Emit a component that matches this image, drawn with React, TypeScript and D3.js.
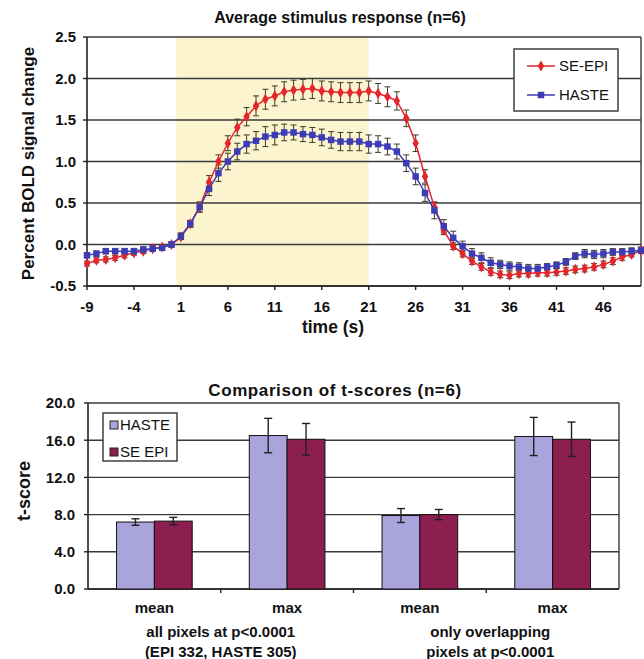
import * as d3 from "d3";

const W = 644;
const H = 659;
const FONT = "Arial, 'Liberation Sans', sans-serif";

// top chart: time course, one point per second
const times = d3.range(-9, 51);
const seEpi = [
  -0.23, -0.19, -0.18, -0.16, -0.13, -0.1, -0.08, -0.05, -0.03, 0.0,
  0.09, 0.25, 0.45, 0.75, 1.0, 1.22, 1.41, 1.54, 1.67, 1.75,
  1.79, 1.84, 1.86, 1.87, 1.88, 1.85, 1.84, 1.83, 1.83, 1.83,
  1.85, 1.82, 1.78, 1.73, 1.52, 1.22, 0.82, 0.45, 0.17, -0.02,
  -0.11, -0.2, -0.27, -0.33, -0.36, -0.37, -0.35, -0.35, -0.34, -0.34,
  -0.33, -0.32, -0.3, -0.29, -0.27, -0.24, -0.2, -0.15, -0.12, -0.07,
];
const seEpiErr = [
  0.03, 0.03, 0.03, 0.03, 0.03, 0.03, 0.03, 0.03, 0.03, 0.03,
  0.03, 0.04, 0.06, 0.08, 0.08, 0.09, 0.1, 0.11, 0.12, 0.12,
  0.12, 0.12, 0.12, 0.12, 0.12, 0.12, 0.12, 0.12, 0.12, 0.12,
  0.12, 0.12, 0.12, 0.11, 0.1, 0.1, 0.08, 0.06, 0.05, 0.04,
  0.04, 0.04, 0.04, 0.04, 0.04, 0.04, 0.04, 0.04, 0.04, 0.04,
  0.04, 0.04, 0.04, 0.04, 0.04, 0.04, 0.04, 0.04, 0.03, 0.03,
];
const haste = [
  -0.13, -0.11, -0.08, -0.08, -0.08, -0.08, -0.06, -0.05, -0.04, 0.0,
  0.1, 0.25, 0.45, 0.67, 0.86, 1.0, 1.12, 1.21, 1.25, 1.3,
  1.32, 1.35, 1.35, 1.33, 1.32, 1.29, 1.26, 1.24, 1.24, 1.24,
  1.21, 1.21, 1.18, 1.12, 0.98, 0.82, 0.62, 0.41, 0.22, 0.08,
  -0.02, -0.11, -0.16, -0.22, -0.24, -0.26, -0.27, -0.29, -0.29, -0.27,
  -0.25, -0.21, -0.14, -0.11, -0.12, -0.11, -0.09, -0.09, -0.08, -0.07,
];
const hasteErr = [
  0.03, 0.03, 0.03, 0.03, 0.03, 0.03, 0.03, 0.03, 0.03, 0.03,
  0.04, 0.04, 0.06, 0.08, 0.1, 0.1, 0.1, 0.11, 0.11, 0.12,
  0.12, 0.1, 0.09, 0.09, 0.09, 0.1, 0.1, 0.11, 0.11, 0.11,
  0.11, 0.1, 0.1, 0.09, 0.1, 0.1, 0.1, 0.1, 0.08, 0.08,
  0.06, 0.06, 0.06, 0.06, 0.05, 0.05, 0.05, 0.05, 0.05, 0.04,
  0.04, 0.04, 0.04, 0.05, 0.05, 0.05, 0.04, 0.04, 0.04, 0.04,
];
const xTickLabels = [-9, -4, 1, 6, 11, 16, 21, 26, 31, 36, 41, 46];
const yTicksTop = [-0.5, 0, 0.5, 1, 1.5, 2, 2.5];
const stimulusWindow = [0.5, 21];

// bottom chart: t-scores
const categories = ["mean1", "max1", "mean2", "max2"];
const categoryLabels = ["mean", "max", "mean", "max"];
const hasteT = [7.2, 16.5, 7.9, 16.4];
const hasteTErr = [0.35, 1.85, 0.75, 2.05];
const epiT = [7.3, 16.1, 8.0, 16.1];
const epiTErr = [0.4, 1.7, 0.55, 1.85];
const yTicksBottom = [0, 4, 8, 12, 16, 20];
const groupLabels = [
  ["all pixels at p<0.0001", "(EPI 332, HASTE 305)"],
  ["only overlapping", "pixels at p<0.0001"],
];

const RED = "#e3262c";
const BLUE = "#3c3cb4";
const ERR = "#3a3a1e";
const GRID = "#3a3a3a";
const HASTE_FILL = "#aaa4dc";
const EPI_FILL = "#8c1f4f";
const INK = "#111";

function TopChart() {
  const x = d3.scaleLinear().domain([-9, 50]).range([87, 641]);
  const y = d3.scaleLinear().domain([-0.5, 2.5]).range([286, 37]);
  const line = d3
    .line<number>()
    .x((_, i) => x(times[i]))
    .y((d) => y(d));

  const diamond = d3.symbol(d3.symbolDiamond, 36)();
  const square = d3.symbol(d3.symbolSquare, 42)();

  return (
    <g fontFamily={FONT}>
      <rect
        x={x(stimulusWindow[0])}
        y={y(2.5)}
        width={x(stimulusWindow[1]) - x(stimulusWindow[0])}
        height={y(-0.5) - y(2.5)}
        fill="#fbf4cf"
      />
      {yTicksTop.map((t) => (
        <g key={t}>
          <line x1={x(-9)} x2={x(50)} y1={y(t)} y2={y(t)} stroke={GRID} strokeWidth={1.4} />
          <line x1={x(-9) - 4} x2={x(-9)} y1={y(t)} y2={y(t)} stroke="#222" strokeWidth={1.4} />
          <text x={76} y={y(t)} dy="0.36em" textAnchor="end" fontSize={15} fontWeight="bold" fill={INK}>
            {t.toFixed(1)}
          </text>
        </g>
      ))}
      <line x1={x(50)} x2={x(50)} y1={y(2.5)} y2={y(-0.5)} stroke={GRID} strokeWidth={1.4} />
      <line x1={x(-9)} x2={x(-9)} y1={y(2.5)} y2={y(-0.5)} stroke="#222" strokeWidth={1.6} />
      <line x1={x(-9)} x2={x(50)} y1={y(-0.5)} y2={y(-0.5)} stroke="#222" strokeWidth={1.6} />
      {xTickLabels.map((t) => (
        <g key={t}>
          <line x1={x(t)} x2={x(t)} y1={y(-0.5)} y2={y(-0.5) + 4} stroke="#222" strokeWidth={1.4} />
          <text x={x(t)} y={312} textAnchor="middle" fontSize={15} fontWeight="bold" fill={INK}>
            {t}
          </text>
        </g>
      ))}

      {/* error bars */}
      {[
        { v: seEpi, e: seEpiErr },
        { v: haste, e: hasteErr },
      ].map((s, k) => (
        <g key={k} stroke={ERR} strokeWidth={1}>
          {s.v.map((d, i) => {
            const cx = x(times[i]);
            return (
              <g key={i}>
                <line x1={cx} x2={cx} y1={y(d - s.e[i])} y2={y(d + s.e[i])} />
                <line x1={cx - 3} x2={cx + 3} y1={y(d - s.e[i])} y2={y(d - s.e[i])} />
                <line x1={cx - 3} x2={cx + 3} y1={y(d + s.e[i])} y2={y(d + s.e[i])} />
              </g>
            );
          })}
        </g>
      ))}

      <path d={line(seEpi) || ""} fill="none" stroke={RED} strokeWidth={1.5} />
      {seEpi.map((d, i) => (
        <path key={i} d={diamond || ""} transform={`translate(${x(times[i])},${y(d)})`} fill={RED} />
      ))}
      <path d={line(haste) || ""} fill="none" stroke={BLUE} strokeWidth={1.5} />
      {haste.map((d, i) => (
        <path key={i} d={square || ""} transform={`translate(${x(times[i])},${y(d)})`} fill={BLUE} />
      ))}

      {/* legend */}
      <rect x={514} y={49} width={104} height={62} fill="#fff" stroke="#333" strokeWidth={1.4} />
      <line x1={527} x2={555} y1={66} y2={66} stroke={RED} strokeWidth={1.5} />
      <path d={diamond || ""} transform="translate(541,66)" fill={RED} />
      <text x={559} y={66} dy="0.36em" fontSize={15} fill={INK}>SE-EPI</text>
      <line x1={527} x2={555} y1={95} y2={95} stroke={BLUE} strokeWidth={1.5} />
      <path d={square || ""} transform="translate(541,95)" fill={BLUE} />
      <text x={559} y={95} dy="0.36em" fontSize={15} fill={INK}>HASTE</text>

      <text x={340} y={23} textAnchor="middle" fontSize={16} fontWeight="bold" fill={INK}>
        Average stimulus response (n=6)
      </text>
      <text
        transform={`translate(28,${(y(2.5) + y(-0.5)) / 2 + 2}) rotate(-90)`}
        textAnchor="middle"
        dy="0.36em"
        fontSize={17}
        fontWeight="bold"
        fill={INK}
      >
        Percent BOLD signal change
      </text>
      <text x={333} y={333} textAnchor="middle" fontSize={17.5} fontWeight="bold" fill={INK}>
        time (s)
      </text>
    </g>
  );
}

function BottomChart() {
  const x0 = d3.scaleBand<string>().domain(categories).range([88, 619]).padding(0);
  const bw = x0.bandwidth();
  const x1 = d3
    .scaleBand<string>()
    .domain(["haste", "epi"])
    .range([bw * 0.215, bw * 0.785])
    .padding(0);
  const y = d3.scaleLinear().domain([0, 20]).range([589, 403]);

  const series = [
    { key: "haste", v: hasteT, e: hasteTErr, fill: HASTE_FILL },
    { key: "epi", v: epiT, e: epiTErr, fill: EPI_FILL },
  ];

  return (
    <g fontFamily={FONT}>
      {yTicksBottom.map((t) => (
        <g key={t}>
          <line x1={88} x2={619} y1={y(t)} y2={y(t)} stroke={GRID} strokeWidth={1.4} />
          <line x1={84} x2={88} y1={y(t)} y2={y(t)} stroke="#222" strokeWidth={1.4} />
          <text x={75} y={y(t)} dy="0.36em" textAnchor="end" fontSize={15} fontWeight="bold" fill={INK}>
            {t.toFixed(1)}
          </text>
        </g>
      ))}
      <line x1={619} x2={619} y1={y(20)} y2={y(0)} stroke={GRID} strokeWidth={1.4} />
      <line x1={88} x2={88} y1={y(20)} y2={y(0)} stroke="#222" strokeWidth={1.6} />
      <line x1={88} x2={619} y1={y(0)} y2={y(0)} stroke="#222" strokeWidth={1.6} />
      {categories.slice(1).map((c) => (
        <line key={c} x1={x0(c)} x2={x0(c)} y1={y(0)} y2={y(0) + 4} stroke="#222" strokeWidth={1.4} />
      ))}

      {categories.map((c, i) => (
        <g key={c} transform={`translate(${x0(c)},0)`}>
          {series.map((s) => {
            const bx = x1(s.key) || 0;
            const cx = bx + x1.bandwidth() / 2;
            return (
              <g key={s.key}>
                <rect
                  x={bx}
                  y={y(s.v[i])}
                  width={x1.bandwidth()}
                  height={y(0) - y(s.v[i])}
                  fill={s.fill}
                  stroke={INK}
                  strokeWidth={1}
                />
                <g stroke="#222" strokeWidth={1.4}>
                  <line x1={cx} x2={cx} y1={y(s.v[i] - s.e[i])} y2={y(s.v[i] + s.e[i])} />
                  <line x1={cx - 4} x2={cx + 4} y1={y(s.v[i] - s.e[i])} y2={y(s.v[i] - s.e[i])} />
                  <line x1={cx - 4} x2={cx + 4} y1={y(s.v[i] + s.e[i])} y2={y(s.v[i] + s.e[i])} />
                </g>
              </g>
            );
          })}
          <text x={bw / 2} y={613} textAnchor="middle" fontSize={15} fontWeight="bold" fill={INK}>
            {categoryLabels[i]}
          </text>
        </g>
      ))}

      {groupLabels.map((lines, g) => (
        <text
          key={g}
          x={x0(categories[g * 2 + 1]) || 0}
          textAnchor="middle"
          fontSize={15}
          fontWeight="bold"
          fill={INK}
        >
          {lines.map((l, j) => (
            <tspan key={j} x={(x0(categories[g * 2 + 1]) || 0) + (g ? 4 : 0)} y={637 + j * 20}>
              {l}
            </tspan>
          ))}
        </text>
      ))}

      {/* legend */}
      <rect x={103} y={413} width={74} height={48} fill="#fff" stroke="#333" strokeWidth={1.4} />
      <rect x={110} y={421} width={8} height={8} fill={HASTE_FILL} stroke="#222" strokeWidth={1} />
      <text x={120} y={425} dy="0.36em" fontSize={15} fill={INK}>HASTE</text>
      <rect x={110} y={448} width={8} height={8} fill={EPI_FILL} stroke="#222" strokeWidth={1} />
      <text x={120} y={452} dy="0.36em" fontSize={15} fill={INK}>SE EPI</text>

      <text
        x={335}
        y={396}
        textAnchor="middle"
        fontSize={17}
        fontWeight="bold"
        letterSpacing={0.6}
        fill={INK}
      >
        Comparison of t-scores (n=6)
      </text>
      <text
        transform={`translate(24,491) rotate(-90)`}
        textAnchor="middle"
        dy="0.36em"
        fontSize={18}
        fontWeight="bold"
        fill={INK}
      >
        t-score
      </text>
    </g>
  );
}

export default function App() {
  return (
    <svg
      width={W}
      height={H}
      style={{ position: "absolute", left: 0, top: 0, background: "#fff" }}
    >
      <rect width={W} height={H} fill="#fff" />
      <TopChart />
      <BottomChart />
    </svg>
  );
}
